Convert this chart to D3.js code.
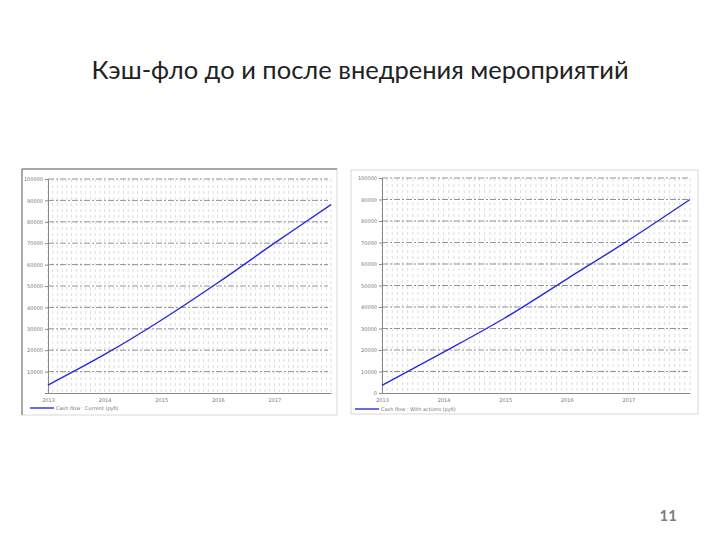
<!DOCTYPE html>
<html>
<head>
<meta charset="utf-8" />
<title>Кэш-фло до и после внедрения мероприятий</title>
<script src="https://cdn.jsdelivr.net/npm/d3@7"></script>
<style>
  body { margin: 0; background: #fff; }
  svg { display: block; }
</style>
</head>
<body>
<script>
// values
const years = [2013, 2014, 2015, 2016, 2017, 2018];
const cashBefore = [3700, 18000, 34000, 51500, 70000, 88000];
const cashAfter = [3600, 19000, 35000, 53000, 71000, 90000];
const yTicks = [0, 10000, 20000, 30000, 40000, 50000, 60000, 70000, 80000, 90000, 100000];
const xTickYears = [2013, 2014, 2015, 2016, 2017];
const legendBefore = "Cash flow : Current (руб)";
const legendAfter = "Cash flow : With actions (руб)";

const W = 720, H = 540;
const svg = d3.select("body").append("svg")
  .attr("width", W).attr("height", H);

svg.append("rect").attr("width", W).attr("height", H).attr("fill", "#fff");

svg.append("text")
  .attr("x", 360).attr("y", 79)
  .attr("text-anchor", "middle")
  .style("font-family", "Lato, 'Open Sans', sans-serif")
  .style("font-size", "25.5px")
  .attr("fill", "#222")
  .text("Кэш-фло до и после внедрения мероприятий");

svg.append("text")
  .attr("x", 677).attr("y", 521)
  .attr("text-anchor", "end")
  .style("font-family", "Lato, 'Open Sans', sans-serif")
  .style("font-size", "15px")
  .style("font-weight", "bold")
  .attr("fill", "#7f7f7f")
  .text("11");

function drawPanel(p) {
  const g = svg.append("g");

  // panel frame
  g.append("rect")
    .attr("x", p.frame[0]).attr("y", p.frame[1])
    .attr("width", p.frame[2] - p.frame[0]).attr("height", p.frame[3] - p.frame[1])
    .attr("fill", "#fff").attr("stroke", "#d8d8d8");
  if (p.darkFrame) {
    g.append("path")
      .attr("d", `M${p.frame[0]},${p.frame[3]}V${p.frame[1]}H${p.frame[2]}`)
      .attr("fill", "none").attr("stroke", "#666");
  }

  const x = d3.scaleLinear().domain([2013, 2018]).range(p.xr);
  const y = d3.scaleLinear().domain([0, 100000]).range(p.yr);

  // vertical grid, monthly
  const months = d3.range(2013, 2018, 1 / 12).concat([2018]);
  g.append("g").selectAll("line").data(months).join("line")
    .attr("x1", d => x(d)).attr("x2", d => x(d))
    .attr("y1", y(100000)).attr("y2", y(0))
    .attr("stroke", "#cfcfcf").attr("stroke-width", 0.7)
    .attr("stroke-dasharray", "3,3");

  // horizontal grid
  g.append("g").selectAll("line").data(yTicks.filter(d => d > 0)).join("line")
    .attr("x1", p.xr[0]).attr("x2", p.gridEnd)
    .attr("y1", d => y(d)).attr("y2", d => y(d))
    .attr("stroke", "#777").attr("stroke-width", 0.8)
    .attr("stroke-dasharray", "6,2,2,2");

  // axes
  const yAxis = g.append("g")
    .attr("transform", `translate(${p.xr[0]},0)`)
    .call(d3.axisLeft(y).tickValues(p.showZero ? yTicks : yTicks.filter(d => d > 0))
      .tickFormat(d3.format("d")).tickSize(3).tickPadding(2));
  const xAxis = g.append("g")
    .attr("transform", `translate(0,${p.yr[0]})`)
    .call(d3.axisBottom(x).tickValues(xTickYears)
      .tickFormat(d3.format("d")).tickSize(0).tickPadding(5));
  [yAxis, xAxis].forEach(a => {
    a.select(".domain").attr("stroke", "#888");
    a.selectAll(".tick line").attr("stroke", "#888");
    a.selectAll("text")
      .style("font-family", "'DejaVu Sans', sans-serif")
      .style("font-size", "5px")
      .attr("fill", "#777");
  });

  // series line
  const line = d3.line()
    .x((d, i) => x(years[i]))
    .y(d => y(d))
    .curve(d3.curveCatmullRom);
  g.append("path")
    .datum(p.values)
    .attr("d", line)
    .attr("fill", "none")
    .attr("stroke", "#2a2ad8")
    .attr("stroke-width", 1.4);

  // legend
  g.append("line")
    .attr("x1", p.legend[0]).attr("x2", p.legend[0] + 24)
    .attr("y1", p.legend[1]).attr("y2", p.legend[1])
    .attr("stroke", "#2a2ad8").attr("stroke-width", 1.4);
  g.append("text")
    .attr("x", p.legend[0] + 26).attr("y", p.legend[1] + 2)
    .style("font-family", "'DejaVu Sans', sans-serif")
    .style("font-size", "5px")
    .attr("fill", "#777")
    .text(p.label);
}

drawPanel({
  frame: [22, 169, 337, 415],
  darkFrame: true,
  xr: [48, 331],
  yr: [393, 179],
  gridEnd: 328,
  showZero: false,
  values: cashBefore,
  legend: [30, 408],
  label: legendBefore
});

drawPanel({
  frame: [351, 170, 698, 414],
  darkFrame: false,
  xr: [382, 690],
  yr: [393, 178],
  gridEnd: 689,
  showZero: true,
  values: cashAfter,
  legend: [355, 409],
  label: legendAfter
});
</script>
</body>
</html>
